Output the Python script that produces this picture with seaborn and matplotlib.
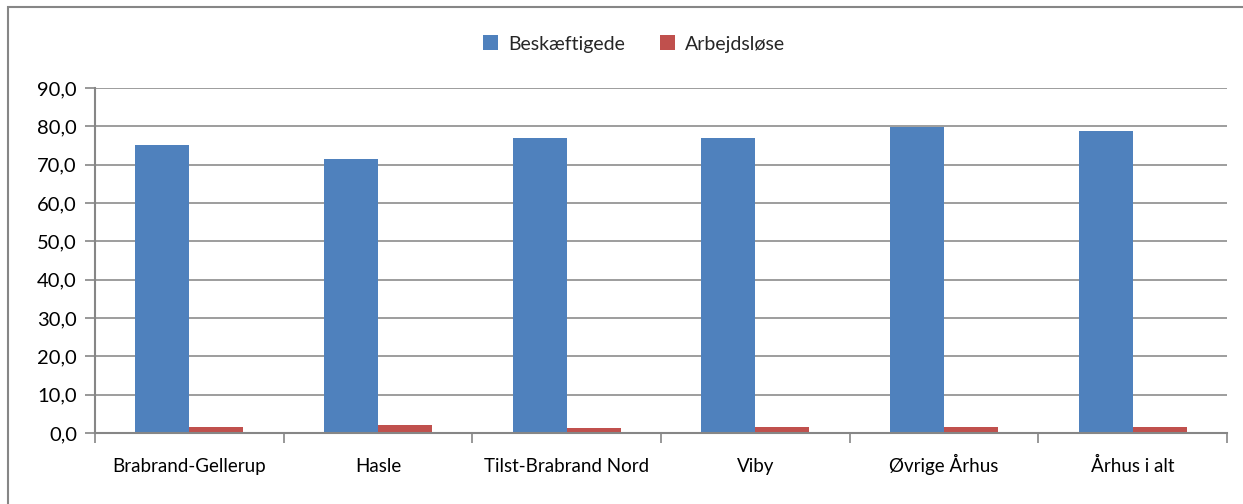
import matplotlib
matplotlib.use("Agg")
import matplotlib.pyplot as plt
import seaborn as sns
import pandas as pd
from matplotlib.patches import Rectangle
from matplotlib.ticker import FuncFormatter, FixedLocator

categories = ["Brabrand-Gellerup", "Hasle", "Tilst-Brabrand Nord", "Viby", "Øvrige Århus", "Århus i alt"]
beskaeftigede = [75.1, 71.6, 77.0, 77.0, 79.8, 78.8]
arbejdsloese = [1.6, 2.1, 1.2, 1.6, 1.6, 1.6]
series_names = ["Beskæftigede", "Arbejdsløse"]
colors = ["#4F81BD", "#C0504D"]

df = pd.DataFrame({
    "kategori": categories * 2,
    "serie": [series_names[0]] * len(categories) + [series_names[1]] * len(categories),
    "værdi": beskaeftigede + arbejdsloese,
})

sns.set_theme(style="white")
plt.rcParams["font.family"] = ["Lato", "DejaVu Sans"]

fig = plt.figure(figsize=(12.43, 5.04), dpi=100)
ax = fig.add_axes([95 / 1243, 1 - 433 / 504, (1227 - 95) / 1243, (433 - 88) / 504])

sns.barplot(data=df, x="kategori", y="værdi", hue="serie", palette=colors,
            width=0.572, saturation=1, ax=ax, legend=True, edgecolor="none")

ax.set_ylim(0, 90)
ax.set_xlim(-0.5, len(categories) - 0.5)
ax.yaxis.set_major_locator(FixedLocator([0, 10, 20, 30, 40, 50, 60, 70, 80, 90]))
ax.yaxis.set_major_formatter(FuncFormatter(lambda v, p: f"{v:.1f}".replace(".", ",")))
ax.set_xlabel("")
ax.set_ylabel("")
ax.grid(axis="y", color="#8c8c8c", linewidth=1.2)
ax.set_axisbelow(True)
for s in ["top", "right"]:
    ax.spines[s].set_visible(False)
for s in ["left", "bottom"]:
    ax.spines[s].set_color("#868686")
    ax.spines[s].set_linewidth(1.5)

ax.tick_params(axis="y", which="major", length=7, width=1.2, color="#868686",
               direction="out", left=True, labelsize=14.5, pad=6, labelcolor="black")
ax.tick_params(axis="x", which="major", length=0, labelsize=13.5, pad=28, labelcolor="black")
ax.set_xticks(range(len(categories)))
ax.set_xticklabels(categories)
for lbl in ax.get_xticklabels():
    lbl.set_verticalalignment("baseline")
ax.set_xticks([i - 0.5 for i in range(len(categories) + 1)], minor=True)
ax.tick_params(axis="x", which="minor", length=7, width=1.2, color="#868686",
               direction="out", bottom=True)

handles, labels = ax.get_legend_handles_labels()
ax.legend(handles, labels, loc="center", bbox_to_anchor=(634 / 1243, 1 - 44 / 504),
          bbox_transform=fig.transFigure, ncol=2, frameon=False, fontsize=14,
          handlelength=0.8, handleheight=0.8, handletextpad=0.5, columnspacing=1.8)

fig.patches.append(Rectangle((8 / 1243, -0.2), 1.2, 1 - 7 / 504 + 0.2,
                             transform=fig.transFigure, fill=False,
                             edgecolor="#868686", linewidth=1.5, figure=fig))

fig.savefig("out.png", dpi=100)
